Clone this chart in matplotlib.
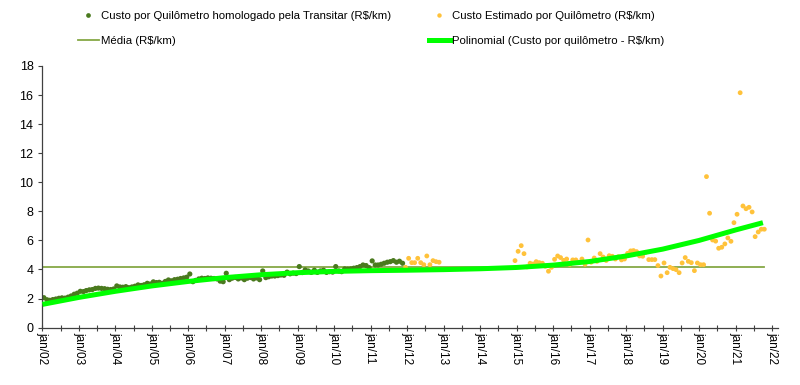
#Custo por quilômetro (R$/km) - homologado x estimado, com média e tendência polinomial

import numpy as np
import pandas as pd
import matplotlib
matplotlib.use("Agg")
import matplotlib.pyplot as plt
import matplotlib.dates as mdates
from matplotlib.lines import Line2D

plt.rcParams['font.family'] = ['Liberation Sans', 'DejaVu Sans']

#Data (monthly values, R$/km)

homologado_inicio = "2002-01"
homologado = [2.06, 1.92, 1.88, 1.93, 1.97, 2.02, 2.05, 2.03, 2.10, 2.18, 2.30, 2.37,
              2.50, 2.48, 2.55, 2.60, 2.62, 2.70, 2.72, 2.70, 2.68, 2.64, 2.62, 2.66,
              2.87, 2.80, 2.78, 2.82, 2.75, 2.80, 2.85, 2.94, 2.90, 2.95, 3.05, 3.00,
              3.15, 3.10, 3.12, 3.05, 3.18, 3.28, 3.22, 3.30, 3.33, 3.38, 3.42, 3.47,
              3.69, 3.16, 3.25, 3.35, 3.40, 3.38, 3.42, 3.40, 3.38, 3.35, 3.20, 3.16,
              3.74, 3.30, 3.40, 3.45, 3.35, 3.42, 3.30, 3.40, 3.45, 3.35, 3.42, 3.30,
              3.90, 3.44, 3.50, 3.55, 3.55, 3.58, 3.62, 3.60, 3.82, 3.70, 3.75, 3.72,
              4.20, 3.79, 3.97, 3.90, 3.80, 3.95, 3.80, 3.90, 3.95, 3.80, 3.85, 3.82,
              4.20, 3.90, 3.85, 4.04, 4.02, 4.04, 4.09, 4.13, 4.20, 4.31, 4.27, 4.13,
              4.59, 4.31, 4.31, 4.36, 4.43, 4.50, 4.54, 4.61, 4.50, 4.57, 4.43]

estimado1_inicio = "2011-12"
estimado1 = [4.15, 4.77, 4.47, 4.47, 4.77, 4.47, 4.33, 4.93, 4.33, 4.61, 4.54, 4.50]

estimado2_inicio = "2014-12"
estimado2 = [4.61, 5.25, 5.64, 5.09, 4.18, 4.43, 4.38, 4.54, 4.47, 4.43, 4.22, 3.88,
             4.15, 4.70, 4.93, 4.82, 4.63, 4.72, 4.35, 4.66, 4.66, 4.50, 4.72, 4.36,
             6.03, 4.50, 4.79, 4.56, 5.09, 4.86, 4.62, 4.95, 4.91, 4.72, 4.88, 4.66,
             4.72, 5.11, 5.28, 5.30, 5.23, 4.93, 4.91, 5.18, 4.68, 4.68, 4.68, 4.27,
             3.55, 4.45, 3.78, 4.15, 4.06, 3.99, 3.78, 4.45, 4.82, 4.56, 4.47, 3.92,
             4.45, 4.33, 4.33, 10.39, 7.87, 6.03, 5.95, 5.46, 5.53, 5.76, 6.17, 5.94,
             7.22, 7.80, 16.16, 8.37, 8.18, 8.28, 7.96, 6.26, 6.58, 6.77, 6.77]

media = 4.15

polinomial_datas = ["2002-01", "2003-01", "2004-01", "2005-01", "2006-01", "2007-01", "2008-01",
                    "2009-01", "2010-01", "2011-01", "2012-01", "2013-01", "2014-01", "2015-01",
                    "2016-01", "2017-01", "2018-01", "2019-01", "2020-01", "2021-01", "2021-10"]
polinomial = [1.60, 2.08, 2.50, 2.87, 3.18, 3.44, 3.64, 3.78, 3.87, 3.92, 3.95,
              3.99, 4.05, 4.14, 4.30, 4.55, 4.93, 5.40, 6.00, 6.72, 7.22]

labels = ["Custo por Quilômetro homologado pela Transitar (R$/km)",
          "Custo Estimado por Quilômetro (R$/km)",
          "Média (R$/km)",
          "Polinomial (Custo por quilômetro - R$/km)"]

#Dates (points sit mid-month)

def monthly(start, values):
    return pd.date_range(start, periods=len(values), freq="MS") + pd.Timedelta(days=14)

x_hom = monthly(homologado_inicio, homologado)
x_est1 = monthly(estimado1_inicio, estimado1)
x_est2 = monthly(estimado2_inicio, estimado2)
x_pol = pd.to_datetime(polinomial_datas)

#Colors
verde_escuro = "#4a7a1e"
laranja = "#ffc23a"
verde_media = "#86a845"
verde_pol = "#00ff00"

#Plot

fig = plt.figure(figsize=(8, 3.85), dpi=100)
ax = fig.add_axes([0.0531, 0.149, 0.9194, 0.6796])

ax.plot([pd.Timestamp("2002-01-01"), x_est2[-1]], [media, media], color=verde_media, linewidth=1.3, zorder=1)
ax.scatter(x_hom, homologado, s=14, color=verde_escuro, edgecolors="none", zorder=2)
ax.scatter(x_est1, estimado1, s=12, color=laranja, edgecolors="none", zorder=2)
ax.scatter(x_est2, estimado2, s=12, color=laranja, edgecolors="none", zorder=2)
ax.plot(x_pol, polinomial, color=verde_pol, linewidth=3.6, solid_capstyle="butt", zorder=3)

ax.set_xlim(pd.Timestamp("2002-01-01"), pd.Timestamp("2022-03-01"))
ax.set_ylim(0, 18)
ax.set_yticks(np.arange(0, 19, 2))

ax.xaxis.set_major_locator(mdates.YearLocator())
ax.xaxis.set_minor_locator(mdates.MonthLocator(bymonth=7))
ax.xaxis.set_major_formatter(mdates.DateFormatter("jan/%y"))
ax.tick_params(axis="x", which="both", direction="inout", length=5, width=0.8, colors="#404040",
               labelcolor="black", labelsize=8.5, rotation=270, pad=1)
ax.tick_params(axis="y", direction="out", length=3, width=0.8, colors="#404040",
               labelcolor="black", labelsize=9)

for side in ["top", "right"]:
    ax.spines[side].set_visible(False)
for side in ["left", "bottom"]:
    ax.spines[side].set_color("#404040")
    ax.spines[side].set_linewidth(0.9)

#Legend (two rows, two columns, above the chart)
handles = [
    Line2D([], [], linestyle="none", marker="o", markersize=3.4, color=verde_escuro, markeredgewidth=0),
    Line2D([], [], color=verde_media, linewidth=1.3),
    Line2D([], [], linestyle="none", marker="o", markersize=3.2, color=laranja, markeredgewidth=0),
    Line2D([], [], color=verde_pol, linewidth=3.6),
]
fig.legend(handles, [labels[0], labels[2], labels[1], labels[3]], ncol=2,
           loc="upper left", bbox_to_anchor=(0.09, 0.985), frameon=False,
           fontsize=8.2, handlelength=1.85, handletextpad=0.2, columnspacing=3.3,
           labelspacing=1.25, borderpad=0)

fig.savefig("out.png", dpi=100)
